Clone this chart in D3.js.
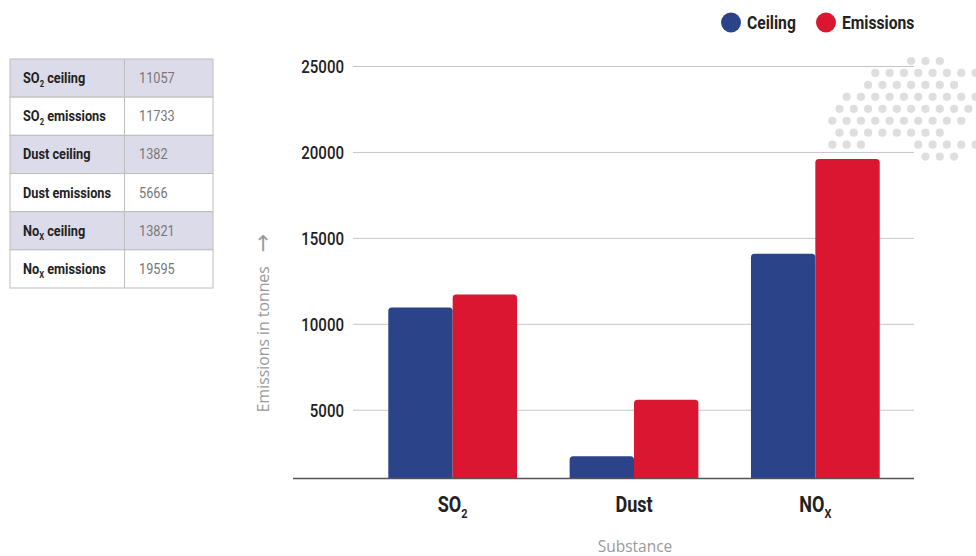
<!DOCTYPE html>
<html><head><meta charset="utf-8">
<script src="https://cdn.jsdelivr.net/npm/d3@7"></script>
<style>
body{margin:0;background:#fff;}
svg{display:block;}
.cond{font-family:Roboto,"Noto Sans",sans-serif;}
.reg{font-family:"Open Sans","Noto Sans",sans-serif;}
</style></head><body><svg width="976" height="556"></svg>
<script>
// ---- data ----
const categories = ["SO2", "Dust", "NOX"];
const catMain = ["SO", "Dust", "NO"];
const catSub = ["2", "", "X"];
const seriesNames = ["Ceiling", "Emissions"];
const seriesColors = ["#2B4388", "#DA1631"];
const ceilingValues = [10950, 2290, 14070];
const emissionValues = [11700, 5580, 19590];
const yTicks = [5000, 10000, 15000, 20000, 25000];
const yMin = 1000, yMax = 25000;
const tableMain = ["SO", "SO", "Dust ceiling", "Dust emissions", "No", "No"];
const tableSub = ["2", "2", "", "", "X", "X"];
const tableRest = [" ceiling", " emissions", "", "", " ceiling", " emissions"];
const tableValues = [11057, 11733, 1382, 5666, 13821, 19595];
// decorative dot pattern: [row, first half-step column, count]
const dotRows = [[0,11,3],[1,6,8],[2,5,7],[3,2,10],[4,1,10],[5,0,10],[6,1,8],[7,0,3],[7,12,5],[8,13,3]];

const svg = d3.select("svg");
const SQ = 0.84; // horizontal condensing factor

function condense(sel, f) {
  sel.each(function () {
    const t = d3.select(this);
    const xx = +t.attr("x") || 0, yy = +t.attr("y") || 0;
    const prev = t.attr("transform") || "";
    t.attr("x", 0).attr("y", 0).attr("transform", `${prev} translate(${xx},${yy}) scale(${f},1)`);
  });
}

// ---- dot decoration ----
const dots = [];
dotRows.forEach(([r, c0, n]) => { for (let i = 0; i < n; i++) dots.push([r, c0 + 2 * i]); });
svg.append("g").selectAll("circle").data(dots).join("circle")
  .attr("cx", d => 832.3 + d[1] * 7.165)
  .attr("cy", d => 61 + d[0] * 11.95)
  .attr("r", 4.1)
  .attr("fill", "#dedede");

// ---- scales ----
const x = d3.scaleBand().domain(categories).range([362, 906]).paddingInner(0.29).paddingOuter(0.145);
const xs = d3.scaleBand().domain(seriesNames).range([0, x.bandwidth()]);
const y = d3.scaleLinear().domain([yMin, yMax]).range([478.5, 66]);

// grid + y axis
const gy = svg.append("g").attr("transform", "translate(353,0)")
  .call(d3.axisLeft(y).tickValues(yTicks).tickSizeInner(-(914 - 353)).tickSizeOuter(0).tickPadding(9).tickFormat(d3.format("d")));
gy.select(".domain").remove();
gy.selectAll(".tick line").attr("stroke", "#c6c6c6").attr("stroke-width", 1);
gy.selectAll(".tick text").attr("class", "cond").attr("font-size", 17.5).attr("font-weight", "500").attr("fill", "#222").attr("dy", "0.36em");
condense(gy.selectAll(".tick text"), 0.86);

// bars
function topRounded(x0, y0, w, h, r) {
  r = Math.min(r, h, w / 2);
  return `M${x0},${y0 + h}V${y0 + r}Q${x0},${y0} ${x0 + r},${y0}H${x0 + w - r}Q${x0 + w},${y0} ${x0 + w},${y0 + r}V${y0 + h}Z`;
}
const barData = [];
categories.forEach((c, i) => {
  barData.push({ c, s: seriesNames[0], v: ceilingValues[i], col: seriesColors[0] });
  barData.push({ c, s: seriesNames[1], v: emissionValues[i], col: seriesColors[1] });
});
svg.append("g").selectAll("path").data(barData).join("path")
  .attr("d", d => topRounded(x(d.c) + xs(d.s), y(d.v), xs.bandwidth(), y(yMin) - y(d.v), 3.5))
  .attr("fill", d => d.col);

// baseline
svg.append("line").attr("x1", 293).attr("x2", 914).attr("y1", y(yMin)).attr("y2", y(yMin))
  .attr("stroke", "#555").attr("stroke-width", 1.3);

// x axis labels
const gx = svg.append("g").attr("transform", `translate(0,${y(yMin)})`)
  .call(d3.axisBottom(x).tickSize(0).tickPadding(0));
gx.select(".domain").remove();
gx.selectAll(".tick text").each(function (d, i) {
  const t = d3.select(this).attr("class", "cond").attr("font-size", 21.5).attr("font-weight", "bold")
    .attr("fill", "#222").attr("y", 33).attr("dy", null).text(null);
  t.append("tspan").text(catMain[i]);
  if (catSub[i]) t.append("tspan").attr("font-size", 13).attr("dy", 6).text(catSub[i]);
});
condense(gx.selectAll(".tick text"), SQ);

// axis titles
svg.append("text").attr("class", "reg").attr("x", 635).attr("y", 552).attr("text-anchor", "middle")
  .attr("font-size", 15.5).attr("fill", "#9a9a9a").text("Substance");
const yt = svg.append("text").attr("class", "reg").attr("transform", "translate(269,323) rotate(-90)")
  .attr("text-anchor", "middle").attr("font-size", 15.8).attr("fill", "#9a9a9a");
yt.append("tspan").text("Emissions in tonnes");
yt.append("tspan").attr("font-size", 22).attr("font-family", "DejaVu Sans").attr("dx", 14).attr("dy", 1).text("\u2192");

// legend
const lg = svg.append("g");
const legX = [731, 826];
seriesNames.forEach((s, i) => {
  lg.append("circle").attr("cx", legX[i]).attr("cy", 22.5).attr("r", 10).attr("fill", seriesColors[i]);
  lg.append("text").attr("class", "cond").attr("x", legX[i] + 16).attr("y", 28.5)
    .attr("font-size", 18).attr("font-weight", "bold").attr("fill", "#222").text(s);
});
condense(lg.selectAll("text"), 0.87);

// table
const tb = svg.append("g");
const rowY = d3.scaleBand().domain(d3.range(tableValues.length)).range([59, 288]);
tableValues.forEach((v, i) => {
  const y0 = rowY(i), h = rowY.bandwidth();
  tb.append("rect").attr("x", 10).attr("y", y0).attr("width", 203).attr("height", h)
    .attr("fill", i % 2 === 0 ? "#DCDBEA" : "#ffffff").attr("stroke", "#bdbdbd").attr("stroke-width", 1);
  const t = tb.append("text").attr("class", "cond tl").attr("x", 23).attr("y", y0 + h / 2 + 5)
    .attr("font-size", 15).attr("font-weight", "bold").attr("fill", "#222");
  t.append("tspan").text(tableMain[i]);
  if (tableSub[i]) {
    t.append("tspan").attr("font-size", 9).attr("dy", 4).text(tableSub[i]);
    t.append("tspan").attr("dy", -4).text(tableRest[i]);
  }
  tb.append("text").attr("class", "cond tv").attr("x", 139).attr("y", y0 + h / 2 + 5)
    .attr("font-size", 15.5).attr("fill", "#777").text(v);
});
condense(tb.selectAll("text.tl"), 0.85);
condense(tb.selectAll("text.tv"), 0.82);
tb.append("line").attr("x1", 124.5).attr("x2", 124.5).attr("y1", 59).attr("y2", 288)
  .attr("stroke", "#bdbdbd").attr("stroke-width", 1);
</script>
</body></html>
